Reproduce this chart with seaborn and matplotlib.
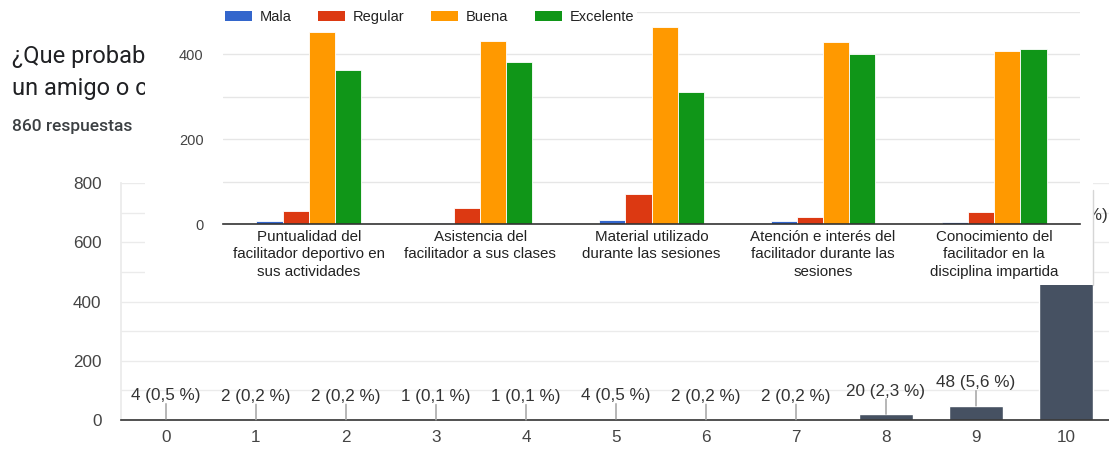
import numpy as np
import pandas as pd
import matplotlib
matplotlib.use("Agg")
import matplotlib.pyplot as plt
import seaborn as sns
from matplotlib.patches import Rectangle, Patch
from matplotlib.lines import Line2D
from matplotlib.transforms import Bbox, TransformedBbox

# --- datos: pregunta de fondo (escala 0-10) ---
escala = [str(i) for i in range(11)]
respuestas = [4, 2, 2, 1, 1, 4, 2, 2, 20, 48, 774]
total_respuestas = 860

# --- datos: grafico superpuesto (evaluacion del facilitador) ---
aspectos = [
    "Puntualidad del\nfacilitador deportivo en\nsus actividades",
    "Asistencia del\nfacilitador a sus clases",
    "Material utilizado\ndurante las sesiones",
    "Atención e interés del\nfacilitador durante las\nsesiones",
    "Conocimiento del\nfacilitador en la\ndisciplina impartida",
]
calificaciones = ["Mala", "Regular", "Buena", "Excelente"]
mala = [6, 3, 10, 7, 5]
regular = [31, 37, 71, 17, 28]
buena = [453, 431, 464, 430, 408]
excelente = [363, 383, 312, 400, 413]
colores = ["#3366cc", "#dc3912", "#ff9900", "#109618"]

# titulo visible (el resto queda tapado por el panel superpuesto)
titulo = ["¿Que probab", "un amigo o c"]

W, H = 1109, 451


def px_box(x0, y0, x1, y1):
    # caja en pixeles (origen arriba a la izquierda) -> coordenadas de figura
    return [x0 / W, 1 - y1 / H, (x1 - x0) / W, (y1 - y0) / H]


sns.set_theme(style="white")
plt.rcParams["font.family"] = ["Liberation Sans", "DejaVu Sans"]

fig = plt.figure(figsize=(W / 100, H / 100), dpi=100)
fig.patch.set_facecolor("white")

# ==========================================
# Grafico de fondo (formulario 0-10)
# ==========================================
recorte = TransformedBbox(Bbox([[0, 0], [145 / W, 1]]), fig.transFigure)
for k, linea in enumerate(titulo):
    t = fig.text(12 / W, 1 - (57 + 32 * k) / H, linea, fontsize=17, color="#202124",
                 family=["Roboto", "DejaVu Sans"], va="center", zorder=0.5)
    t.set_clip_box(recorte)
fig.text(12 / W, 1 - 127 / H, f"{total_respuestas} respuestas",
         fontsize=12.5, color="#3c4043", family=["Roboto", "DejaVu Sans"],
         weight="medium", va="center", zorder=0.5)

ax_bg = fig.add_axes(px_box(121, 183, 1111, 420))
ax_bg.set_zorder(0)
sns.barplot(x=escala, y=respuestas, color="#465162", saturation=1, width=0.61, ax=ax_bg)
ax_bg.set_xlim(-0.5, 10.5)
ax_bg.set_ylim(0, 800)
ax_bg.set_yticks([0, 200, 400, 600, 800])
ax_bg.set_yticks([100, 300, 500, 700], minor=True)
ax_bg.grid(axis="y", which="both", color="#ebebeb", lw=1)
ax_bg.set_axisbelow(True)
ax_bg.tick_params(axis="both", length=0, labelsize=12.3, labelcolor="#444444")
ax_bg.tick_params(axis="y", pad=14)
ax_bg.tick_params(axis="x", pad=7)
ax_bg.set_xlabel("")
ax_bg.set_ylabel("")
for s in ["top", "right"]:
    ax_bg.spines[s].set_visible(False)
ax_bg.spines["bottom"].set_color("#333333")
ax_bg.spines["bottom"].set_linewidth(1.2)
ax_bg.spines["left"].set_color("#ebebeb")

for i, v in enumerate(respuestas):
    pct = f"{v / total_respuestas * 100:.1f}".rstrip("0").rstrip(".").replace(".", ",")
    etiqueta = f"{v} ({pct} %)"
    if v > 700:
        # barra mas alta: la etiqueta queda dentro de la barra
        ax_bg.annotate(etiqueta, xy=(i, v), xytext=(0, -25), textcoords="offset pixels",
                       ha="center", va="center", fontsize=12.3, color="#333333",
                       annotation_clip=False)
        continue
    ax_bg.annotate("", xy=(i, v), xytext=(0, 15), textcoords="offset pixels",
                   arrowprops=dict(arrowstyle="-", color="#aaaaaa", lw=1.2, shrinkA=0, shrinkB=0))
    ax_bg.annotate(etiqueta, xy=(i, v), xytext=(0, 23), textcoords="offset pixels",
                   ha="center", va="center", fontsize=12.3, color="#333333")

# ==========================================
# Panel superpuesto (evaluacion del facilitador)
# ==========================================
panel = Rectangle((145 / W, 1 - 285 / H), (1093 - 145) / W, 285 / H,
                  transform=fig.transFigure, facecolor="white", edgecolor="none", zorder=1)
fig.add_artist(panel)
fig.add_artist(Line2D([1093 / W, 1093 / W], [1 - 190 / H, 1 - 285 / H],
                      transform=fig.transFigure, color="#d6d6d6", lw=1, zorder=1.5))

df = pd.DataFrame({
    "aspecto": aspectos * 4,
    "calificacion": np.repeat(calificaciones, len(aspectos)),
    "n": mala + regular + buena + excelente,
})

ax_in = fig.add_axes(px_box(223, 12, 1080, 224))
ax_in.set_zorder(2)
sns.barplot(data=df, x="aspecto", y="n", hue="calificacion", hue_order=calificaciones,
            palette=colores, saturation=1, width=0.61, edgecolor="white", linewidth=0.6,
            ax=ax_in)
ax_in.set_xlim(-0.5, 4.5)
ax_in.set_ylim(0, 500)
ax_in.set_yticks([0, 200, 400])
ax_in.set_yticks([100, 300, 500], minor=True)
ax_in.grid(axis="y", which="both", color="#e6e6e6", lw=1)
ax_in.set_axisbelow(True)
ax_in.tick_params(axis="both", length=0)
ax_in.tick_params(axis="y", labelsize=10.5, labelcolor="#444444", pad=14)
ax_in.tick_params(axis="x", labelsize=10.9, labelcolor="#222222", pad=4)
for lbl in ax_in.get_xticklabels():
    lbl.set_linespacing(1.32)
ax_in.set_xlabel("")
ax_in.set_ylabel("")
for s in ["top", "right", "left"]:
    ax_in.spines[s].set_visible(False)
ax_in.spines["bottom"].set_color("#333333")
ax_in.spines["bottom"].set_linewidth(1.2)

ax_in.get_legend().remove()
handles = [Patch(facecolor=c, edgecolor="none") for c in colores]
leg = ax_in.legend(handles, calificaciones, loc="center left",
                   bbox_to_anchor=(222 / W, 1 - 17 / H), bbox_transform=fig.transFigure,
                   ncol=4, fontsize=10.5, frameon=True, facecolor="white", edgecolor="none",
                   framealpha=1, borderpad=0.2, borderaxespad=0, handlelength=1.85,
                   handleheight=0.7, handletextpad=0.55, columnspacing=1.8)
for t in leg.get_texts():
    t.set_color("#222222")

fig.savefig("out.png", dpi=100)
